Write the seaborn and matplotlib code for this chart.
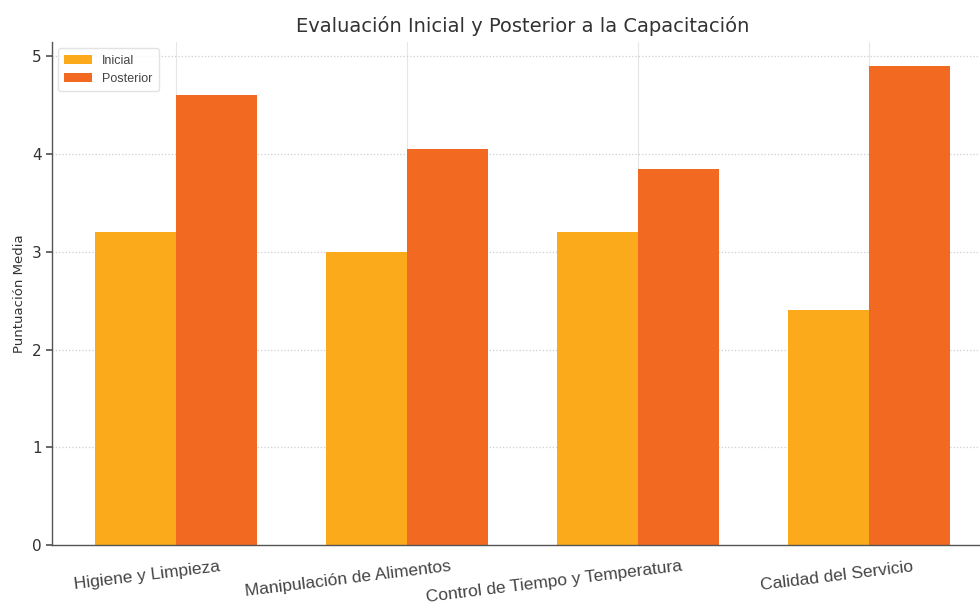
import matplotlib
import matplotlib.pyplot as plt
import matplotlib.transforms as mtransforms
import pandas as pd
import seaborn as sns

matplotlib.use("Agg")

categories = [
    "Higiene y Limpieza",
    "Manipulación de Alimentos",
    "Control de Tiempo y Temperatura",
    "Calidad del Servicio",
]
inicial = [3.2, 3.0, 3.2, 2.4]
posterior = [4.6, 4.05, 3.85, 4.9]
series_names = ["Inicial", "Posterior"]
colors = ["#FBAA1B", "#F26A21"]

sns.set_theme(style="white")
plt.rcParams["font.family"] = ["DejaVu Sans"]

df = pd.DataFrame(
    {
        "categoria": categories * 2,
        "serie": [series_names[0]] * len(categories) + [series_names[1]] * len(categories),
        "valor": inicial + posterior,
    }
)

fig = plt.figure(figsize=(9.8, 6.14), dpi=100)
ax = fig.add_axes([0.053, 0.1124, 0.960, 0.819])

sns.barplot(
    data=df,
    x="categoria",
    y="valor",
    hue="serie",
    palette=colors,
    width=0.7,
    linewidth=0,
    saturation=1,
    errorbar=None,
    ax=ax,
)

ax.set_xlim(-0.535, 3.535)
ax.set_ylim(0, 5.145)
ax.set_yticks([0, 1, 2, 3, 4, 5])
ax.yaxis.grid(True, linestyle=":", color="#cfcfcf", linewidth=0.9)
ax.xaxis.grid(True, linestyle="-", color="#e6e6e6", linewidth=0.8)
ax.set_axisbelow(True)

sns.despine(ax=ax, top=True, right=True)
for side in ["left", "bottom"]:
    ax.spines[side].set_color("#555555")
    ax.spines[side].set_linewidth(1.0)

ax.tick_params(axis="y", labelsize=11, length=4, color="#555555", left=True, labelcolor="#333333")
ax.tick_params(axis="x", labelsize=12.5, length=0, pad=10, labelcolor="#444444")

ax.set_title("Evaluación Inicial y Posterior a la Capacitación", fontsize=14, color="#333333", pad=7)
ax.set_ylabel("Puntuación Media", fontsize=9.5, color="#333333")
ax.set_xlabel("")

offset = mtransforms.ScaledTranslation(0.45, 0, fig.dpi_scale_trans)
for label in ax.get_xticklabels():
    label.set_rotation(7)
    label.set_ha("right")
    label.set_family(["Liberation Sans"])
    label.set_transform(label.get_transform() + offset)

leg = ax.legend(
    loc="upper left",
    frameon=True,
    title=None,
    handlelength=2.2,
    borderpad=0.5,
    prop={"family": ["Liberation Sans"], "size": 9},
)
leg.get_frame().set_edgecolor("#dddddd")
for text in leg.get_texts():
    text.set_color("#444444")

fig.savefig("out.png", dpi=100)
